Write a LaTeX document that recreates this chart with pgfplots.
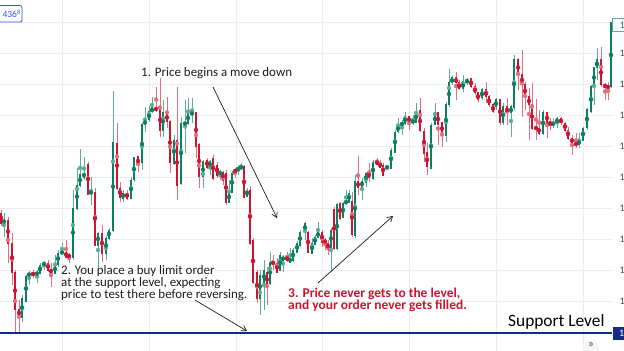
\documentclass[border=0pt]{standalone}
\usepackage{fontspec}
\setmainfont{Carlito}
\usepackage{pgfplots}
\pgfplotsset{compat=1.18}
\usepackage{pgfplotstable}
\usetikzlibrary{arrows.meta}
\definecolor{cg}{HTML}{0A7F61}
\definecolor{cgw}{HTML}{5EAE97}
\definecolor{cr}{HTML}{CF1332}
\definecolor{crw}{HTML}{E0707F}
\definecolor{gridc}{HTML}{EDEDED}
\definecolor{navy}{HTML}{142C84}
\definecolor{txt}{HTML}{1E1E1E}
\definecolor{tvblue}{HTML}{2F5BE0}

\pgfplotstableread{
x o h l c
4 223 213 237 220
22 317 295 322 298
26 301 275 302 276
29 276 271 285 273
37 275 270 283 272
40 273 263 274 265
44 265 261 270 263
55 273 255 274 265
58 264 250 267 253
62 253 243 255 252
73 257 190 260 208
77 208 168 210 185
80 185 149 187 175
84 177 157 180 173
91 193 177 205 192
98 245 232 268 233
106 253 236 260 238
109 238 228 240 230
113 230 91 232 143
123 198 190 202 193
131 198 177 199 180
134 180 157 182 158
142 163 123 170 125
145 125 107 132 120
149 120 106 122 112
152 112 97 113 108
163 130 100 137 113
174 163 135 165 140
181 183 117 185 123
185 124 100 153 123
188 123 98 125 113
192 114 98 123 113
203 177 160 188 162
210 167 160 175 162
220 174 170 180 172
229 202 180 203 192
232 192 171 193 173
238 170 165 175 168
241 168 163 170 167
247 196 188 197 190
260 298 270 315 275
264 283 260 310 270
270 283 252 285 262
280 270 252 270 255
283 260 255 272 257
290 262 248 263 258
293 260 248 262 250
297 252 241 253 243
300 245 230 247 232
305 232 222 240 223
312 253 238 254 243
315 244 235 245 237
318 237 222 238 232
331 247 228 272 230
337 248 203 250 204
343 217 202 218 203
346 203 190 205 201
349 202 190 203 193
355 235 175 238 182
362 187 178 200 181
366 182 172 187 173
373 178 160 180 162
387 168 165 169 167
391 168 148 168 150
395 152 130 153 132
398 132 118 133 125
402 125 120 135 123
405 123 112 125 117
413 122 115 125 121
416 122 103 123 112
431 168 123 168 125
435 125 103 125 113
446 135 102 142 105
449 105 69 107 83
452 83 76 85 78
463 89 75 92 82
467 82 78 85 80
482 98 88 100 90
496 107 98 110 100
503 123 103 125 107
511 113 105 137 107
514 108 55 110 60
543 133 110 135 113
553 125 118 128 123
557 123 117 128 119
579 145 133 148 140
583 140 127 140 128
587 128 108 130 110
591 112 85 113 87
594 87 67 105 68
597 68 48 80 60
611 87 22 88 23
}\greendata

\pgfplotstableread{
x o h l c
1 213 210 226 223
8 220 217 263 243
12 243 233 285 272
15 272 270 332 309
19 309 300 333 317
33 273 270 278 275
48 263 260 272 270
51 269 263 287 273
66 252 240 258 257
69 255 253 263 257
88 164 162 195 194
95 192 188 246 245
102 233 225 262 253
117 143 123 190 188
120 188 182 202 197
127 193 190 200 198
138 157 156 172 165
156 108 87 112 110
160 110 78 137 130
167 113 97 128 122
170 122 120 173 163
177 140 87 200 185
196 113 112 158 147
199 145 143 188 177
207 160 158 169 167
213 158 155 180 178
217 165 162 178 175
223 172 171 185 180
226 173 170 205 202
235 170 168 178 172
244 167 165 198 197
250 190 186 245 243
253 240 238 284 282
257 272 270 303 298
267 272 267 305 287
273 262 255 270 264
277 263 258 273 272
287 257 252 262 260
308 232 231 253 252
322 232 230 247 242
325 240 238 250 243
328 243 240 255 249
334 209 207 250 248
340 203 202 220 218
352 201 192 237 234
358 182 156 195 187
369 173 163 182 177
377 161 158 165 164
380 163 160 168 167
383 165 163 176 175
409 117 116 130 122
420 111 98 132 131
424 131 128 162 153
427 153 143 175 167
438 113 112 145 125
442 123 122 147 134
456 78 72 100 83
459 83 80 90 89
471 79 78 88 87
475 87 83 95 93
478 93 92 102 100
486 90 82 103 97
489 97 95 107 105
493 105 103 113 112
500 100 99 125 123
507 107 98 125 113
518 60 58 90 75
522 75 50 117 85
525 85 82 110 97
529 97 88 140 105
532 105 83 130 128
536 127 99 140 129
539 128 110 135 133
547 113 112 138 123
550 122 118 130 125
561 119 117 125 123
565 123 122 132 130
568 130 127 140 138
572 138 135 155 143
576 143 133 148 145
601 60 47 87 85
605 85 83 100 87
608 86 82 100 88
}\reddata

\begin{document}
\begin{tikzpicture}
\useasboundingbox (0,0) rectangle (624bp,351bp);
\fill[white] (0,0) rectangle (624bp,351bp);
\begin{axis}[at={(0,0)}, anchor=south west, scale only axis,
  width=612bp, height=351bp,
  xmin=0, xmax=612, ymin=0, ymax=351, y dir=reverse, clip=false,
  axis line style={draw=none}, tick style={draw=none},
  xtick={62,149,236,322,409,496,583},
  ytick={22,53,84,115,146,177,208,239,270,301},
  xticklabels={}, yticklabels={},
  grid=major, major grid style={gridc, line width=0.8pt}]
% wicks
\addplot[cgw, only marks, mark=none, forget plot,
  error bars/.cd, y dir=both, y explicit, error mark=none,
  error bar style={line width=0.9pt, color=cgw}]
  table[x=x, y expr={(\thisrow{h}+\thisrow{l})/2}, y error expr={(\thisrow{l}-\thisrow{h})/2}] {\greendata};
\addplot[crw, only marks, mark=none, forget plot,
  error bars/.cd, y dir=both, y explicit, error mark=none,
  error bar style={line width=0.9pt, color=crw}]
  table[x=x, y expr={(\thisrow{h}+\thisrow{l})/2}, y error expr={(\thisrow{l}-\thisrow{h})/2}] {\reddata};
% bodies
\addplot[cg, only marks, mark=none, forget plot,
  error bars/.cd, y dir=both, y explicit, error mark=none,
  error bar style={line width=2.7pt, color=cg}]
  table[x=x, y expr={(\thisrow{o}+\thisrow{c})/2}, y error expr={abs(\thisrow{o}-\thisrow{c})/2+0.5}] {\greendata};
\addplot[cr, only marks, mark=none, forget plot,
  error bars/.cd, y dir=both, y explicit, error mark=none,
  error bar style={line width=2.7pt, color=cr}]
  table[x=x, y expr={(\thisrow{o}+\thisrow{c})/2}, y error expr={abs(\thisrow{o}-\thisrow{c})/2+0.5}] {\reddata};

% support line
\draw[navy, line width=1.3pt] (axis cs:0,333) -- (axis cs:612,333);
\fill[navy] (axis cs:612.5,327) rectangle (axis cs:626,339.5);
\node[white, font=\fontsize{10}{12}\selectfont, anchor=west, inner sep=0] at (axis cs:619,333.2) {1};
% last price label
\draw[cgw, line width=0.9pt, fill=white] (axis cs:612.5,18.5) rectangle (axis cs:626,31.5);
\node[cg, font=\fontsize{10}{12}\selectfont, anchor=west, inner sep=0] at (axis cs:619.5,25) {1};
% right price labels
\pgfplotsinvokeforeach{53,84,115,146,177,208,239,270,301}{
  \node[black!70, font=\fontsize{10}{12}\selectfont, anchor=west, inner sep=0] at (axis cs:619.5,#1) {1};
}
% top-left label
\draw[tvblue, line width=0.8pt, rounded corners=2pt] (axis cs:-6,5.5) rectangle (axis cs:22,22);
\node[tvblue, font=\fontsize{9.5}{11}\selectfont, anchor=east, inner sep=0] at (axis cs:20.5,14) {436\raisebox{2.5bp}{\fontsize{6.5}{7}\selectfont 8}};

% annotations
\node[txt, anchor=base west, inner sep=0, font=\fontsize{13}{15}\selectfont] at (axis cs:141,77) {1. Price begins a move down};
\node[txt, anchor=base west, inner sep=0, font=\fontsize{13}{15}\selectfont] at (axis cs:61,274) {2. You place a buy limit order};
\node[txt, anchor=base west, inner sep=0, font=\fontsize{13}{15}\selectfont] at (axis cs:61,286.5) {at the support level, expecting};
\node[txt, anchor=base west, inner sep=0, font=\fontsize{13}{15}\selectfont] at (axis cs:61,298.8) {price to test there before reversing.};
\node[cr, anchor=base west, inner sep=0, font=\bfseries\fontsize{13.5}{15}\selectfont] at (axis cs:288,297) {3. Price never gets to the level,};
\node[cr, anchor=base west, inner sep=0, font=\bfseries\fontsize{13.5}{15}\selectfont] at (axis cs:288,309) {and your order never gets filled.};
\node[black, anchor=base west, inner sep=0, font=\fontsize{17.4}{19}\selectfont] at (axis cs:508,326.8) {Support Level};

\draw[txt, line width=0.7pt, -{Straight Barb[length=5bp,width=6bp]}] (axis cs:213,87) -- (axis cs:277,218);
\draw[txt, line width=0.7pt, -{Straight Barb[length=5bp,width=6bp]}] (axis cs:195,300) -- (axis cs:247,331);
\draw[txt, line width=0.7pt, -{Straight Barb[length=5bp,width=6bp]}] (axis cs:318,283) -- (axis cs:393,216);

% scroll button
\fill[black!4] (axis cs:591,348) circle (8bp);
\node[black!70, font=\fontsize{12}{13}\selectfont, inner sep=0] at (axis cs:591,344.5) {»};
\end{axis}
\end{tikzpicture}
\end{document}
